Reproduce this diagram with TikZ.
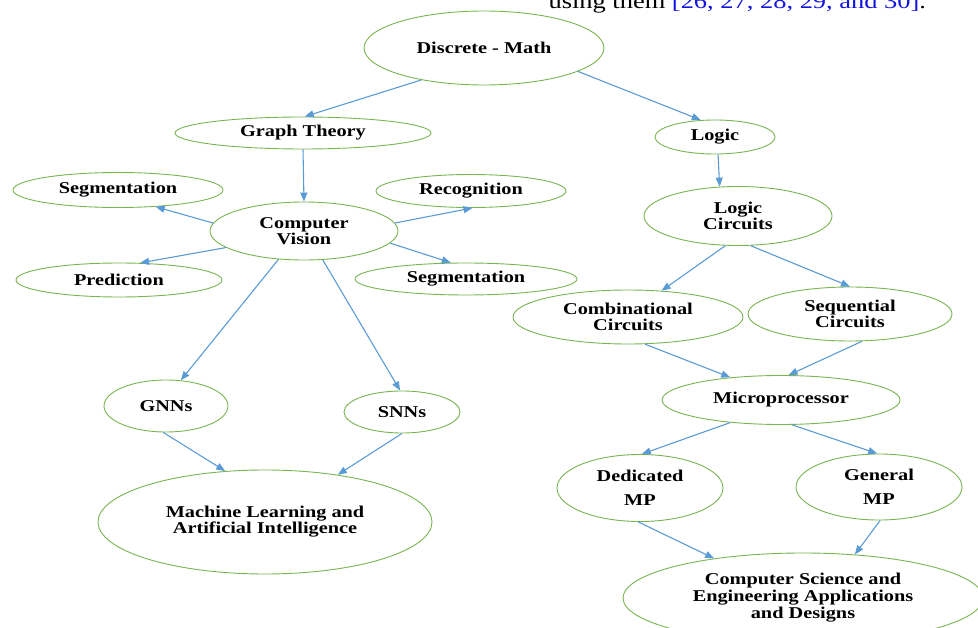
\documentclass[tikz,border=0pt]{standalone}
\usepackage{xcolor}
\usepackage{fontspec}
\setmainfont{Liberation Serif}[FakeStretch=1.23]
\usetikzlibrary{shapes.geometric}
\usetikzlibrary{arrows.meta}
\definecolor{ringgreen}{RGB}{120,180,80}
\definecolor{linkblue}{RGB}{91,155,213}
\definecolor{citeblue}{RGB}{20,20,225}

\begin{document}
\begin{tikzpicture}[x=1pt, y=-1pt]
            \tikzset{topic/.style={ellipse, draw=ringgreen, line width=0.9pt, inner sep=0pt, align=center,
                font=\fontsize{16.5}{16}\selectfont\bfseries}}
            \tikzset{link/.style={linkblue, line width=1.1pt, -{Triangle[length=9pt, width=7pt]}}}
            \useasboundingbox (0, 0) rectangle (978, 628);
            \clip (0, 0) rectangle (978, 628);
            \node[anchor=base west, font=\fontsize{21.5}{24}\selectfont] (cite) at (545, 9)
                {using them \textcolor{citeblue}{[26, 27, 28, 29, and 30]}.};
            \node[topic, minimum width=240, minimum height=74] (dm) at (484, 48) {Discrete - Math};
            \node[topic, minimum width=256, minimum height=32] (gt) at (303, 133) {Graph Theory};
            \node[topic, minimum width=120, minimum height=34] (logic) at (715, 137) {Logic};
            \node[topic, minimum width=210, minimum height=35] (segl) at (118, 190) {Segmentation};
            \node[topic, minimum width=190, minimum height=33] (recog) at (471, 191) {Recognition};
            \node[topic, minimum width=188, minimum height=58] (cv) at (304, 231) {Computer\\Vision};
            \node[topic, minimum width=206, minimum height=34] (pred) at (119, 280) {Prediction};
            \node[topic, minimum width=222, minimum height=32] (segr) at (466, 279) {Segmentation};
            \node[topic, minimum width=188, minimum height=59] (lc) at (738, 216) {Logic\\Circuits};
            \node[topic, minimum width=230, minimum height=54] (comb) at (628, 317) {Combinational\\Circuits};
            \node[topic, minimum width=204, minimum height=54] (seq) at (850, 314) {Sequential\\Circuits};
            \node[topic, minimum width=238, minimum height=49] (micro) at (781, 400) {Microprocessor};
            \node[topic, minimum width=124, minimum height=52] (gnn) at (166, 406) {GNNs};
            \node[topic, minimum width=116, minimum height=42] (snn) at (402, 412) {SNNs};
            \node[topic, minimum width=334, minimum height=104] (ml) at (265, 522)
                {Machine Learning and\\Artificial Intelligence};
            \node[topic, minimum width=166, minimum height=67] (ded) at (640, 488) {Dedicated\\[8pt]MP};
            \node[topic, minimum width=166, minimum height=66] (gen) at (879, 487) {General\\[8pt]MP};
            \node[topic, minimum width=360, minimum height=90] (cse) at (803, 598)
                {Computer Science and\\[1pt]Engineering Applications\\[1pt]and Designs};
            \foreach \a/\b in {dm.207/gt.84, dm.-14/logic.130, gt.270/cv.90,
                cv.175/segl.-24, cv.5/recog.-85, cv.192/pred.39, cv.-8/segr.133,
                cv.228/gnn.60, cv.-57/snn.95, logic.-80/lc.122, lc.247/comb.38,
                lc.-67/seq.90, comb.-58/micro.156, seq.-66/micro.73,
                micro.204/ded.87, micro.-66/gen.93, ded.267/cse.156, gen.-88/cse.40,
                gnn.264/ml.128, snn.270/ml.33} {
                \draw[link] (\a) -- (\b);
            }
\end{tikzpicture}
\end{document}
